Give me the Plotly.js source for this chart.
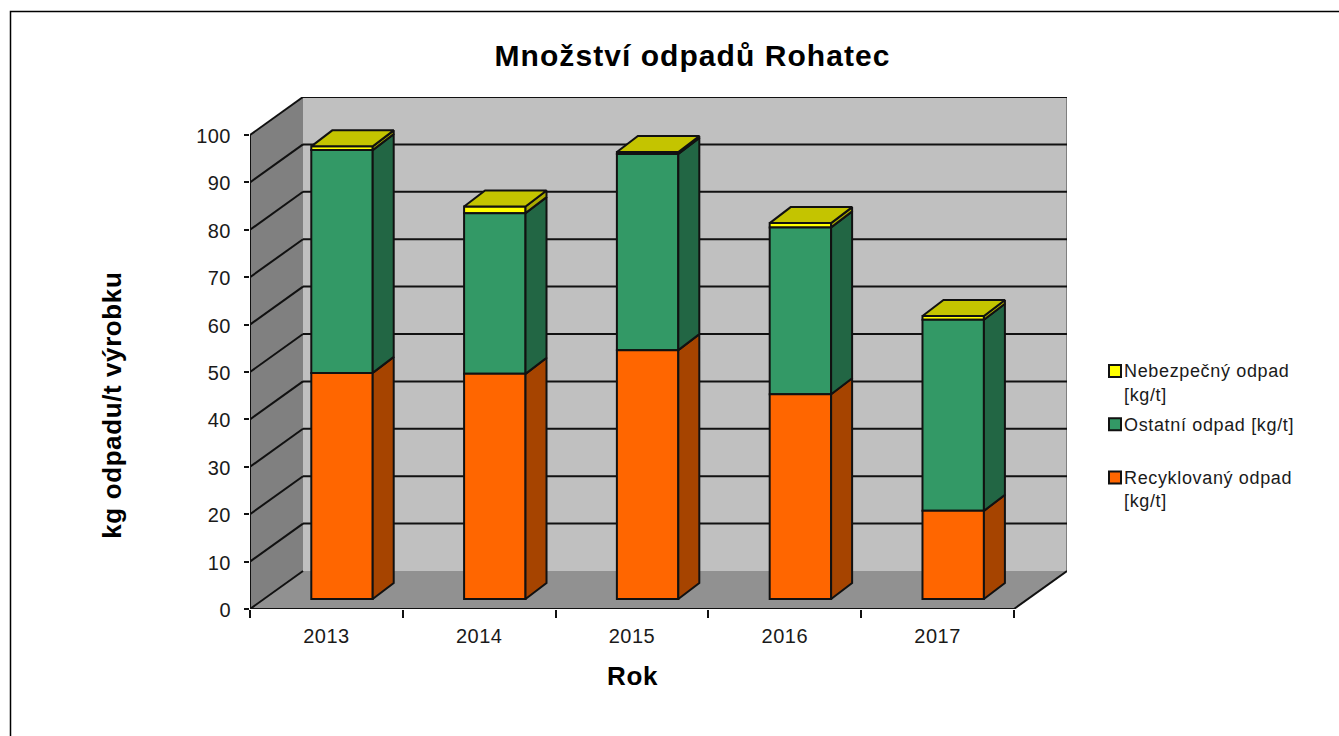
<!DOCTYPE html>
<html>
<head>
<meta charset="utf-8">
<script src="https://cdn.plot.ly/plotly-3.0.1.min.js"></script>
<style>
html,body{margin:0;padding:0;background:#fff;overflow:hidden}
#chart{width:1339px;height:736px}
#chart .gtitle{letter-spacing:1.05px}
#chart .annotation-text{letter-spacing:0.6px}
#chart .xtick text,#chart .ytick text{letter-spacing:0.5px}
#chart .legendtext{letter-spacing:0.65px}
#chart .legend .scrollbox{clip-path:none !important}
</style>
</head>
<body>
<div id="chart"></div>
<script>
const years = ['2013', '2014', '2015', '2016', '2017'];
const recycled = [47.7, 47.5, 52.5, 43.2, 18.6];
const other = [47.0, 33.9, 41.4, 35.2, 40.3];
const hazardous = [0.8, 1.4, 0.4, 0.9, 0.8];
const yTicks = [0, 10, 20, 30, 40, 50, 60, 70, 80, 90, 100];
const seriesNames = ['Recyklovaný odpad<br>[kg/t]', 'Ostatní odpad [kg/t]<br>&nbsp;', 'Nebezpečný odpad<br>[kg/t]'];
const frontColors = ['#FF6600', '#339966', '#FFFF00'];
const sideColors = ['#A64400', '#226644', '#AAAA00'];
const topColor = '#C4C400';

const PXX = 152.8, PXY = 4.74;            // pixels per category / per unit
const WALL_DX = 53 / PXX, WALL_DY = 38 / PXY;
const BAR_DX0 = 15.6 / PXX, BAR_DY0 = 10 / PXY;
const BAR_DDX = 21 / PXX, BAR_DDY = 16 / PXY;
const BAR_W = 0.402;
const EDGE = 2;
const xs = years.map((_, i) => i + 1);
const xMin = 0.5, xMax = 5.5 + WALL_DX, yMin = 0, yMax = 100 + WALL_DY;

const stacks = [recycled, other, hazardous];
const traces = [];
let lows = years.map(() => 0);
const ranges = stacks.map(vals => {
  const lo = lows.slice();
  const hi = lo.map((v, i) => v + vals[i]);
  lows = hi;
  return {lo, hi};
});

// Front faces: real bars (top of the stack first, so the legend reads downward)
[2, 1, 0].forEach(s => {
  traces.push({
    type: 'bar',
    x: xs.map(x => x + BAR_DX0),
    y: stacks[s],
    base: ranges[s].lo.map(v => v + BAR_DY0),
    width: BAR_W,
    name: seriesNames[s],
    legendgroup: 'g' + s,
    marker: {color: frontColors[s], line: {color: '#111', width: EDGE}},
    hoverinfo: 'y'
  });
});

// Side faces, derived from the same values
stacks.forEach((vals, s) => {
  const px = [], py = [];
  xs.forEach((x, i) => {
    const xr = x + BAR_DX0 + BAR_W / 2;
    const lo = ranges[s].lo[i] + BAR_DY0, hi = ranges[s].hi[i] + BAR_DY0;
    px.push(xr, xr + BAR_DDX, xr + BAR_DDX, xr, xr, null);
    py.push(lo, lo + BAR_DDY, hi + BAR_DDY, hi, lo, null);
  });
  traces.push({type: 'scatter', mode: 'lines', x: px, y: py, fill: 'toself', fillcolor: sideColors[s],
    line: {color: '#111', width: EDGE}, showlegend: false, hoverinfo: 'skip'});
});

// Top faces
(function () {
  const px = [], py = [];
  xs.forEach((x, i) => {
    const xl = x + BAR_DX0 - BAR_W / 2, xr = xl + BAR_W;
    const t = ranges[2].hi[i] + BAR_DY0;
    px.push(xl, xr, xr + BAR_DDX, xl + BAR_DDX, xl, null);
    py.push(t, t, t + BAR_DDY, t + BAR_DDY, t, null);
  });
  traces.push({type: 'scatter', mode: 'lines', x: px, y: py, fill: 'toself', fillcolor: topColor,
    line: {color: '#111', width: EDGE}, showlegend: false, hoverinfo: 'skip'});
})();

// Boundary ticks on an overlay axis
traces.push({type: 'scatter', mode: 'markers', x: [1], y: [0], xaxis: 'x2', marker: {opacity: 0}, showlegend: false, hoverinfo: 'skip'});

function poly(pts, fill) {
  const path = 'M' + pts.map(p => p[0] + ',' + p[1]).join('L') + 'Z';
  return {type: 'path', xref: 'x', yref: 'y', path, fillcolor: fill, line: {color: fill, width: 0}, layer: 'below'};
}
function seg(x0, y0, x1, y1, color, w) {
  return {type: 'line', xref: 'x', yref: 'y', x0, y0, x1, y1, line: {color, width: w}, layer: 'below'};
}
const xFrontEnd = 5.5;
const shapes = [
  poly([[xMin + WALL_DX, WALL_DY], [xMax, WALL_DY], [xMax, 100 + WALL_DY], [xMin + WALL_DX, 100 + WALL_DY]], '#C0C0C0'),
  poly([[xMin, 0], [xMin + WALL_DX, WALL_DY], [xMin + WALL_DX, 100 + WALL_DY], [xMin, 100]], '#808080'),
  poly([[xMin, 0], [xFrontEnd, 0], [xMax, WALL_DY], [xMin + WALL_DX, WALL_DY]], '#919191'),
  seg(xMax, WALL_DY, xMax, 100 + WALL_DY, '#808080', 2)
];
yTicks.forEach(v => {
  shapes.push(seg(xMin, v, xMin + WALL_DX, v + WALL_DY, '#111', EDGE));
  if (v > 0) shapes.push(seg(xMin + WALL_DX, v + WALL_DY, xMax, v + WALL_DY, '#111', EDGE));
});
shapes.push(seg(xMin, 0, xMin, 100, '#111', EDGE));
shapes.push(seg(xMin, 0, xFrontEnd, 0, '#111', EDGE));
shapes.push(seg(xFrontEnd, 0, xMax, WALL_DY, '#111', EDGE));

// Outer frame
const W = 817, H = 512;
const fx = p => (p - 250) / W, fy = p => (609 - p) / H;
shapes.push({type: 'path', xref: 'paper', yref: 'paper', layer: 'below',
  path: `M${fx(10.5)},${fy(740)}L${fx(10.5)},${fy(11.5)}L${fx(1345)},${fy(11.5)}`,
  line: {color: '#000', width: 1.5}});

const textColor = '#1a1a1a';
const layout = {
  width: 1339, height: 736,
  margin: {l: 250, r: 272, t: 97, b: 127, pad: 0},
  paper_bgcolor: '#fff', plot_bgcolor: '#fff',
  barmode: 'overlay',
  font: {family: 'Liberation Sans, Arial, sans-serif', color: textColor},
  title: {text: 'Množství odpadů Rohatec', x: 692.5 / 1339, xanchor: 'center', y: 1 - 55 / 736, yanchor: 'middle',
    font: {size: 30, color: '#000', family: 'Liberation Sans, Arial, sans-serif', weight: 700}},
  xaxis: {range: [xMin, xMax], tickmode: 'array', tickvals: xs, ticktext: years, ticks: '', ticklabelstandoff: 13,
    tickfont: {size: 20, color: textColor}, showgrid: false, zeroline: false, showline: false, fixedrange: true},
  xaxis2: {overlaying: 'x', anchor: 'y', side: 'bottom', range: [xMin, xMax], tickmode: 'array',
    tickvals: [0.5, 1.5, 2.5, 3.5, 4.5, 5.5], showticklabels: false, ticks: 'outside', ticklen: 8, tickwidth: EDGE, tickcolor: '#111',
    showgrid: false, zeroline: false, showline: false, fixedrange: true},
  yaxis: {range: [yMin, yMax], tickmode: 'array', tickvals: yTicks, ticks: 'outside', ticklen: 5, tickwidth: EDGE, tickcolor: '#111',
    ticklabelstandoff: 9, ticklabelshift: 1, tickfont: {size: 20, color: textColor}, showgrid: false, zeroline: false, showline: false, fixedrange: true},
  legend: {x: 1084 / 1339, xref: 'container', y: 1 - 352 / 736, yref: 'container', xanchor: 'left', yanchor: 'top',
    traceorder: 'grouped', tracegroupgap: 3.5, font: {size: 18, color: textColor}, bgcolor: 'rgba(0,0,0,0)',
    itemclick: false, itemdoubleclick: false},
  shapes,
  annotations: [
    {text: '<b>Rok</b>', xref: 'paper', yref: 'paper', x: fx(633), y: fy(676), xanchor: 'center', yanchor: 'middle', showarrow: false,
      font: {size: 26, color: '#000'}},
    {text: '<b>kg odpadu/t výrobku</b>', xref: 'paper', yref: 'paper', x: fx(112), y: fy(405), xanchor: 'center', yanchor: 'middle', textangle: -90, showarrow: false,
      font: {size: 26, color: '#000'}}
  ]
};
Plotly.newPlot('chart', traces, layout, {displayModeBar: false}).then(gd => {
  const nudge = () => {
    gd.querySelectorAll('.legend .legendpoints').forEach(el => el.setAttribute('transform', 'translate(11,-11)'));
  };
  nudge();
  gd.on('plotly_afterplot', nudge);
});
</script>
</body>
</html>
